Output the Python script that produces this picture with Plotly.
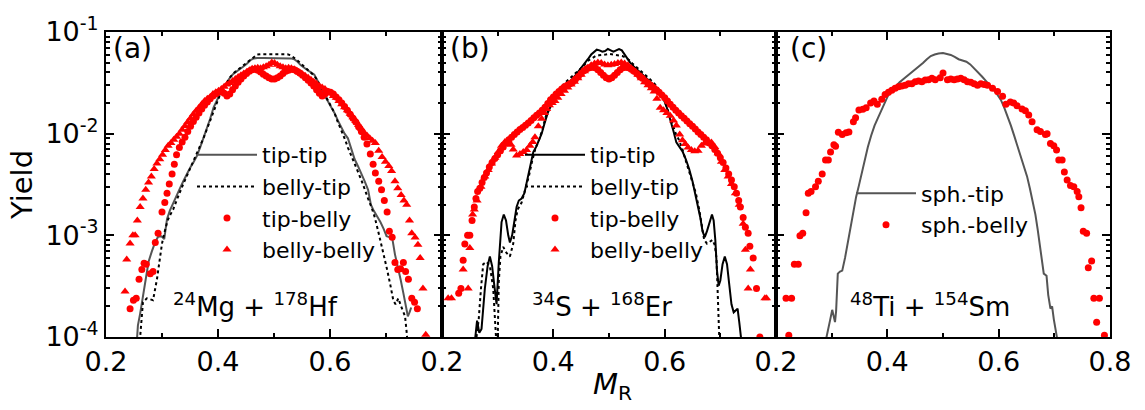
import plotly.graph_objects as go
from plotly.subplots import make_subplots

FONT = "DejaVu Sans"
RED = "#ff0000"
GRAY = "#555555"

# ---------------- (a) 24Mg + 178Hf ----------------
a_tiptip_x = [0.255, 0.257, 0.261, 0.266, 0.271, 0.276, 0.282, 0.288, 0.293, 0.299, 0.304, 0.309, 0.314,
              0.320, 0.326, 0.332, 0.338, 0.344, 0.350, 0.356, 0.362, 0.368, 0.374, 0.380, 0.386, 0.392,
              0.398, 0.404, 0.410, 0.416, 0.422, 0.428, 0.434, 0.440, 0.446, 0.452, 0.458, 0.464, 0.470,
              0.482, 0.494, 0.506, 0.518, 0.530, 0.536, 0.542, 0.548, 0.554, 0.560, 0.566, 0.572, 0.578,
              0.584, 0.590, 0.596, 0.602, 0.608, 0.614, 0.620, 0.626, 0.632, 0.638, 0.644, 0.650, 0.656,
              0.662, 0.668, 0.673, 0.678, 0.684, 0.690, 0.696, 0.701, 0.706, 0.711, 0.716, 0.721, 0.726,
              0.731, 0.736, 0.739, 0.742, 0.745]
a_tiptip_y = [9.0e-5, 1.3e-4, 1.7e-4, 2.6e-4, 4.0e-4, 5.5e-4, 7.0e-4, 8.6e-4, 9.7e-4, 9.8e-4, 9.2e-4,
              1.45e-3, 1.75e-3, 2.1e-3, 2.5e-3, 2.9e-3, 3.4e-3, 4.0e-3, 4.6e-3, 5.2e-3, 6.0e-3, 7.3e-3,
              9.0e-3, 1.1e-2, 1.4e-2, 1.8e-2, 2.15e-2, 2.5e-2, 2.85e-2, 3.2e-2, 3.6e-2, 3.9e-2, 4.1e-2,
              4.3e-2, 4.6e-2, 4.9e-2, 5.3e-2, 5.5e-2, 5.55e-2, 5.55e-2, 5.55e-2, 5.55e-2, 5.55e-2, 5.5e-2,
              5.4e-2, 5.1e-2, 4.7e-2, 4.4e-2, 4.2e-2, 4.0e-2, 3.8e-2, 3.3e-2, 2.7e-2, 2.4e-2, 2.1e-2,
              1.85e-2, 1.6e-2, 1.35e-2, 1.15e-2, 1.0e-2, 9.0e-3, 7.0e-3, 5.6e-3, 4.8e-3, 4.1e-3, 3.4e-3,
              2.8e-3, 2.0e-3, 1.75e-3, 1.55e-3, 1.35e-3, 1.15e-3, 9.8e-4, 9.6e-4, 9.5e-4, 6.5e-4, 5.0e-4,
              3.7e-4, 2.7e-4, 1.9e-4, 1.6e-4, 1.75e-4, 1.95e-4]

a_bellytip_x = [0.259, 0.261, 0.266, 0.273, 0.279, 0.284, 0.291, 0.296, 0.300, 0.305, 0.310, 0.315, 0.320,
                0.326, 0.332, 0.338, 0.344, 0.350, 0.356, 0.362, 0.368, 0.374, 0.380, 0.386, 0.392, 0.398,
                0.404, 0.410, 0.416, 0.422, 0.428, 0.434, 0.440, 0.446, 0.452, 0.458, 0.464, 0.470, 0.476,
                0.500, 0.524, 0.530, 0.536, 0.542, 0.548, 0.554, 0.560, 0.566, 0.572, 0.578, 0.584, 0.590,
                0.596, 0.602, 0.608, 0.614, 0.620, 0.626, 0.632, 0.638, 0.644, 0.650, 0.656, 0.662, 0.668,
                0.674, 0.680, 0.686, 0.690, 0.696, 0.702, 0.708, 0.713, 0.717, 0.722, 0.727, 0.731, 0.734,
                0.737, 0.739]
a_bellytip_y = [8e-5, 1.0e-4, 2.2e-4, 2.4e-4, 2.35e-4, 2.3e-4, 3.7e-4, 5.6e-4, 8.3e-4, 1.1e-3, 1.4e-3,
                1.6e-3, 1.8e-3, 2.2e-3, 2.7e-3, 3.2e-3, 3.8e-3, 4.5e-3, 5.3e-3, 6.3e-3, 7.5e-3, 9.0e-3,
                1.1e-2, 1.35e-2, 1.7e-2, 2.05e-2, 2.45e-2, 2.85e-2, 3.25e-2, 3.6e-2, 3.95e-2, 4.2e-2,
                4.45e-2, 4.75e-2, 5.05e-2, 5.4e-2, 5.7e-2, 6.0e-2, 6.05e-2, 6.05e-2, 6.05e-2, 5.9e-2,
                5.6e-2, 5.25e-2, 4.9e-2, 4.55e-2, 4.25e-2, 4.0e-2, 3.7e-2, 3.3e-2, 2.85e-2, 2.5e-2, 2.2e-2,
                1.9e-2, 1.6e-2, 1.3e-2, 1.1e-2, 9.0e-3, 7.3e-3, 6.0e-3, 5.0e-3, 4.2e-3, 3.5e-3, 2.9e-3,
                2.3e-3, 1.9e-3, 1.5e-3, 1.1e-3, 9.0e-4, 6.5e-4, 4.6e-4, 3.2e-4, 2.3e-4, 2.1e-4, 2.4e-4,
                2.0e-4, 1.8e-4, 1.6e-4, 1.1e-4, 8e-5]

a_tipbelly_x = [0.243, 0.249, 0.254, 0.259, 0.264, 0.268, 0.272, 0.279, 0.284, 0.288, 0.293, 0.300, 0.305,
                0.309, 0.313, 0.318, 0.322, 0.326, 0.331, 0.336, 0.341, 0.346, 0.351, 0.356, 0.361, 0.366,
                0.371, 0.376, 0.381, 0.386, 0.391, 0.396, 0.401, 0.406, 0.411, 0.416, 0.421, 0.426, 0.431,
                0.436, 0.441, 0.446, 0.451, 0.456, 0.461, 0.466, 0.471, 0.476, 0.481, 0.486, 0.491, 0.496,
                0.501, 0.506, 0.511, 0.516, 0.521, 0.526, 0.531, 0.536, 0.541, 0.546, 0.551, 0.556, 0.561,
                0.566, 0.571, 0.576, 0.581, 0.586, 0.591, 0.596, 0.601, 0.606, 0.611, 0.616, 0.621, 0.626,
                0.631, 0.636, 0.641, 0.646, 0.651, 0.656, 0.661, 0.666, 0.672, 0.677, 0.681, 0.687, 0.692,
                0.697, 0.702, 0.706, 0.711, 0.716, 0.721, 0.726, 0.731, 0.735, 0.740, 0.746, 0.751, 0.756]
a_tipbelly_y = [1.9e-4, 2.3e-4, 2.4e-4, 3.7e-4, 4.6e-4, 5.3e-4, 5.2e-4, 4.2e-4, 4.4e-4, 8.5e-4, 1.05e-3,
                1.7e-3, 2.1e-3, 2.6e-3, 3.2e-3, 4.0e-3, 5.0e-3, 6.2e-3, 7.3e-3, 8.3e-3, 9.2e-3, 1.05e-2,
                1.18e-2, 1.32e-2, 1.45e-2, 1.6e-2, 1.75e-2, 1.9e-2, 2.05e-2, 2.2e-2, 2.35e-2, 2.45e-2,
                2.55e-2, 2.6e-2, 2.5e-2, 2.35e-2, 2.45e-2, 2.7e-2, 2.95e-2, 3.2e-2, 3.45e-2, 3.7e-2, 3.9e-2,
                4.1e-2, 4.25e-2, 4.3e-2, 4.2e-2, 4.05e-2, 3.85e-2, 3.7e-2, 3.55e-2, 3.45e-2, 3.45e-2,
                3.55e-2, 3.7e-2, 3.9e-2, 4.1e-2, 4.2e-2, 4.3e-2, 4.25e-2, 4.1e-2, 3.95e-2, 3.75e-2,
                3.55e-2, 3.35e-2, 3.15e-2, 2.95e-2, 2.7e-2, 2.5e-2, 2.35e-2, 2.45e-2, 2.6e-2, 2.55e-2,
                2.45e-2, 2.3e-2, 2.15e-2, 2.0e-2, 1.85e-2, 1.7e-2, 1.55e-2, 1.42e-2, 1.3e-2, 1.17e-2,
                1.05e-2, 9.2e-3, 7.9e-3, 6.3e-3, 5.0e-3, 4.1e-3, 3.4e-3, 2.8e-3, 2.2e-3, 1.7e-3, 1.1e-3,
                9.6e-4, 5.4e-4, 4.6e-4, 4.7e-4, 5.4e-4, 4.4e-4, 3.7e-4, 2.4e-4, 2.2e-4, 1.9e-4]

a_bellybelly_x = [0.234, 0.237, 0.243, 0.248, 0.252, 0.256, 0.261, 0.266, 0.271, 0.276, 0.281, 0.286, 0.291,
                  0.296, 0.301, 0.306, 0.311, 0.316, 0.321, 0.326, 0.331, 0.336, 0.341, 0.346, 0.351, 0.356,
                  0.361, 0.366, 0.371, 0.376, 0.381, 0.386, 0.391, 0.396, 0.401, 0.406, 0.411, 0.416, 0.421,
                  0.426, 0.431, 0.436, 0.441, 0.446, 0.451, 0.456, 0.461, 0.466, 0.471, 0.476, 0.481, 0.486,
                  0.491, 0.496, 0.501, 0.506, 0.511, 0.516, 0.521, 0.526, 0.531, 0.536, 0.541, 0.546, 0.551,
                  0.556, 0.561, 0.566, 0.571, 0.576, 0.581, 0.586, 0.591, 0.596, 0.601, 0.606, 0.611, 0.616,
                  0.621, 0.626, 0.631, 0.636, 0.641, 0.646, 0.651, 0.656, 0.661, 0.666, 0.671, 0.676, 0.681,
                  0.687, 0.693, 0.699, 0.705, 0.710, 0.716, 0.721, 0.727, 0.732, 0.737, 0.742, 0.746, 0.752,
                  0.757, 0.761, 0.766, 0.771]
a_bellybelly_y = [2.8e-4, 5.8e-4, 8.3e-4, 1.0e-3, 1.0e-3, 1.4e-3, 1.9e-3, 2.3e-3, 2.8e-3, 3.3e-3, 3.8e-3,
                  4.5e-3, 5.1e-3, 5.6e-3, 6.2e-3, 6.9e-3, 7.6e-3, 8.1e-3, 8.7e-3, 9.3e-3, 1.0e-2, 1.09e-2,
                  1.19e-2, 1.3e-2, 1.42e-2, 1.55e-2, 1.68e-2, 1.8e-2, 1.95e-2, 2.1e-2, 2.2e-2, 2.3e-2,
                  2.45e-2, 2.55e-2, 2.65e-2, 2.75e-2, 2.9e-2, 3.05e-2, 3.15e-2, 3.3e-2, 3.45e-2, 3.6e-2,
                  3.75e-2, 3.9e-2, 4.05e-2, 4.2e-2, 4.35e-2, 4.4e-2, 4.45e-2, 4.4e-2, 4.5e-2, 4.6e-2,
                  4.75e-2, 5.0e-2, 4.95e-2, 4.75e-2, 4.6e-2, 4.5e-2, 4.4e-2, 4.45e-2, 4.4e-2, 4.3e-2,
                  4.15e-2, 4.0e-2, 3.85e-2, 3.7e-2, 3.55e-2, 3.4e-2, 3.25e-2, 3.1e-2, 2.95e-2, 2.85e-2,
                  2.75e-2, 2.6e-2, 2.5e-2, 2.35e-2, 2.25e-2, 2.1e-2, 1.95e-2, 1.82e-2, 1.7e-2, 1.57e-2,
                  1.45e-2, 1.33e-2, 1.22e-2, 1.12e-2, 1.02e-2, 9.6e-3, 9.0e-3, 8.5e-3, 8.1e-3, 6.8e-3,
                  5.9e-3, 5.3e-3, 4.8e-3, 4.3e-3, 3.4e-3, 2.9e-3, 2.5e-3, 2.2e-3, 2.0e-3, 1.4e-3, 1.05e-3,
                  9.5e-4, 8.1e-4, 6.0e-4, 3.0e-4, 1.05e-4]

# ---------------- (b) 34S + 168Er ----------------
b_tiptip_x = [0.258, 0.260, 0.263, 0.267, 0.271, 0.277, 0.282, 0.286, 0.290, 0.294, 0.298, 0.302, 0.307,
              0.311, 0.315, 0.319, 0.322, 0.326, 0.330, 0.334, 0.338, 0.343, 0.348, 0.352, 0.358, 0.364,
              0.369, 0.374, 0.379, 0.384, 0.390, 0.396, 0.402, 0.408, 0.414, 0.420, 0.426, 0.432, 0.438,
              0.444, 0.450, 0.456, 0.462, 0.468, 0.474, 0.478, 0.483, 0.488, 0.493, 0.498, 0.503, 0.508,
              0.513, 0.518, 0.523, 0.528, 0.533, 0.538, 0.544, 0.550, 0.556, 0.562, 0.568, 0.574, 0.580,
              0.586, 0.592, 0.598, 0.604, 0.610, 0.616, 0.621, 0.626, 0.632, 0.638, 0.644, 0.650, 0.655,
              0.660, 0.664, 0.668, 0.672, 0.676, 0.681, 0.685, 0.688, 0.691, 0.694, 0.697, 0.700, 0.704,
              0.708, 0.712, 0.716, 0.720, 0.724, 0.728, 0.731, 0.734, 0.737, 0.739]
b_tiptip_y = [8e-5, 1.0e-4, 1.45e-4, 1.1e-4, 1.2e-4, 3.0e-4, 5.0e-4, 6.2e-4, 5.0e-4, 3.2e-4, 2.1e-4, 5.4e-4,
              1.35e-3, 1.6e-3, 1.4e-3, 1.0e-3, 8.5e-4, 1.0e-3, 1.4e-3, 1.9e-3, 2.2e-3, 2.3e-3, 2.6e-3,
              3.3e-3, 4.7e-3, 6.6e-3, 7.4e-3, 8.5e-3, 1.0e-2, 1.25e-2, 1.6e-2, 1.9e-2, 2.2e-2, 2.5e-2,
              2.65e-2, 2.85e-2, 3.1e-2, 3.35e-2, 3.65e-2, 4.0e-2, 4.4e-2, 4.85e-2, 5.4e-2, 6.0e-2, 6.4e-2,
              6.7e-2, 6.6e-2, 6.4e-2, 6.5e-2, 6.8e-2, 6.6e-2, 6.4e-2, 6.6e-2, 6.8e-2, 6.6e-2, 6.0e-2,
              5.5e-2, 5.0e-2, 4.6e-2, 4.3e-2, 4.0e-2, 3.75e-2, 3.5e-2, 3.25e-2, 3.0e-2, 2.8e-2, 2.55e-2,
              2.2e-2, 1.8e-2, 1.4e-2, 1.05e-2, 8.2e-3, 7.4e-3, 6.7e-3, 5.6e-3, 4.5e-3, 3.4e-3, 2.6e-3,
              2.0e-3, 1.5e-3, 1.1e-3, 9.6e-4, 1.1e-3, 1.4e-3, 1.6e-3, 1.4e-3, 9.0e-4, 4.5e-4, 3.2e-4,
              3.6e-4, 5.2e-4, 6.2e-4, 5.2e-4, 3.3e-4, 2.1e-4, 1.75e-4, 1.85e-4, 1.9e-4, 1.4e-4, 1.0e-4,
              8e-5]

b_bellytip_x = [0.262, 0.266, 0.270, 0.274, 0.280, 0.286, 0.292, 0.296, 0.298, 0.300, 0.302, 0.305, 0.310,
                0.316, 0.322, 0.328, 0.332, 0.336, 0.343, 0.350, 0.356, 0.362, 0.368, 0.374, 0.380, 0.386,
                0.392, 0.398, 0.404, 0.410, 0.416, 0.422, 0.428, 0.434, 0.440, 0.446, 0.452, 0.458, 0.464,
                0.470, 0.476, 0.482, 0.488, 0.494, 0.500, 0.506, 0.512, 0.518, 0.524, 0.530, 0.536, 0.542,
                0.548, 0.554, 0.560, 0.566, 0.572, 0.578, 0.584, 0.590, 0.596, 0.602, 0.608, 0.614, 0.620,
                0.626, 0.632, 0.638, 0.644, 0.650, 0.656, 0.662, 0.667, 0.671, 0.676, 0.681, 0.686, 0.690,
                0.693, 0.695, 0.697, 0.699]
b_bellytip_y = [1.0e-4, 1.5e-4, 3.0e-4, 5.2e-4, 5.5e-4, 5.0e-4, 3.0e-4, 1.5e-4, 8e-5, 9e-5, 3.5e-4, 6.2e-4,
                7.7e-4, 6.7e-4, 6.2e-4, 8.3e-4, 1.4e-3, 1.8e-3, 2.1e-3, 2.9e-3, 3.8e-3, 5.4e-3, 7.2e-3,
                8.6e-3, 1.08e-2, 1.45e-2, 1.8e-2, 2.1e-2, 2.35e-2, 2.65e-2, 2.95e-2, 3.2e-2, 3.45e-2,
                3.7e-2, 3.95e-2, 4.2e-2, 4.5e-2, 4.9e-2, 5.3e-2, 5.6e-2, 5.8e-2, 5.9e-2, 6.0e-2, 6.0e-2,
                6.1e-2, 6.0e-2, 6.0e-2, 5.9e-2, 5.8e-2, 5.6e-2, 5.3e-2, 4.9e-2, 4.6e-2, 4.3e-2, 4.0e-2,
                3.75e-2, 3.5e-2, 3.25e-2, 3.0e-2, 2.7e-2, 2.35e-2, 1.95e-2, 1.55e-2, 1.2e-2, 1.0e-2, 8.6e-3,
                7.0e-3, 5.4e-3, 4.3e-3, 3.4e-3, 2.6e-3, 1.8e-3, 1.2e-3, 9.0e-4, 8.3e-4, 8.6e-4, 9.0e-4,
                8.0e-4, 6.0e-4, 3.0e-4, 1.0e-4, 7e-5]

b_tipbelly_x = [0.230, 0.234, 0.238, 0.241, 0.246, 0.250, 0.254, 0.258, 0.261, 0.264, 0.268, 0.272, 0.276,
                0.280, 0.285, 0.290, 0.295, 0.300, 0.305, 0.310, 0.315, 0.320, 0.325, 0.330, 0.335, 0.340,
                0.345, 0.350, 0.355, 0.360, 0.365, 0.370, 0.375, 0.380, 0.385, 0.390, 0.395, 0.400, 0.405,
                0.410, 0.415, 0.420, 0.425, 0.430, 0.435, 0.440, 0.445, 0.450, 0.455, 0.460, 0.465, 0.470,
                0.475, 0.480, 0.485, 0.490, 0.495, 0.500, 0.505, 0.510, 0.515, 0.520, 0.525, 0.530, 0.535,
                0.540, 0.545, 0.550, 0.555, 0.560, 0.565, 0.570, 0.575, 0.580, 0.585, 0.590, 0.595, 0.600,
                0.605, 0.610, 0.615, 0.620, 0.625, 0.630, 0.635, 0.640, 0.645, 0.650, 0.655, 0.660, 0.665,
                0.670, 0.675, 0.680, 0.685, 0.690, 0.695, 0.700, 0.705, 0.710, 0.715, 0.720, 0.725, 0.729,
                0.733, 0.736, 0.741, 0.745, 0.750, 0.753, 0.759, 0.765, 0.771]
b_tipbelly_y = [2.7e-4, 3.0e-4, 5.7e-4, 8.2e-4, 1.0e-3, 1.0e-3, 1.4e-3, 1.9e-3, 2.3e-3, 2.7e-3, 2.9e-3,
                3.3e-3, 3.7e-3, 4.1e-3, 4.7e-3, 5.2e-3, 5.7e-3, 6.2e-3, 6.8e-3, 7.4e-3, 8.1e-3, 8.7e-3,
                9.2e-3, 9.8e-3, 1.04e-2, 1.1e-2, 1.15e-2, 1.21e-2, 1.27e-2, 1.35e-2, 1.43e-2, 1.52e-2,
                1.6e-2, 1.7e-2, 1.82e-2, 1.98e-2, 2.15e-2, 2.3e-2, 2.45e-2, 2.6e-2, 2.75e-2, 2.9e-2, 3.0e-2,
                3.1e-2, 3.25e-2, 3.45e-2, 3.65e-2, 3.9e-2, 4.15e-2, 4.35e-2, 4.45e-2, 4.5e-2, 4.45e-2,
                4.25e-2, 4.0e-2, 3.75e-2, 3.55e-2, 3.45e-2, 3.55e-2, 3.75e-2, 4.0e-2, 4.25e-2, 4.45e-2,
                4.5e-2, 4.45e-2, 4.3e-2, 4.1e-2, 3.9e-2, 3.7e-2, 3.5e-2, 3.3e-2, 3.15e-2, 3.0e-2, 2.85e-2,
                2.7e-2, 2.55e-2, 2.4e-2, 2.25e-2, 2.1e-2, 1.95e-2, 1.82e-2, 1.7e-2, 1.6e-2, 1.5e-2,
                1.42e-2, 1.33e-2, 1.25e-2, 1.18e-2, 1.11e-2, 1.04e-2, 9.8e-3, 9.2e-3, 8.7e-3, 8.1e-3,
                7.6e-3, 7.0e-3, 6.4e-3, 5.8e-3, 5.2e-3, 4.6e-3, 4.0e-3, 3.5e-3, 3.0e-3, 2.6e-3, 2.2e-3,
                1.9e-3, 1.5e-3, 1.2e-3, 1.05e-3, 7.8e-4, 6.0e-4, 3.0e-4, 1.0e-4]

b_bellybelly_x = [0.211, 0.217, 0.238, 0.247, 0.250, 0.255, 0.258, 0.263, 0.270, 0.277, 0.283, 0.289, 0.295,
                  0.301, 0.307, 0.313, 0.319, 0.324, 0.328, 0.334, 0.340, 0.346, 0.352, 0.358, 0.363, 0.367,
                  0.373, 0.379, 0.384, 0.388, 0.393, 0.398, 0.403, 0.408, 0.414, 0.420, 0.426, 0.432, 0.438,
                  0.444, 0.450, 0.456, 0.462, 0.468, 0.474, 0.480, 0.486, 0.492, 0.498, 0.504, 0.510, 0.516,
                  0.522, 0.528, 0.534, 0.540, 0.546, 0.552, 0.558, 0.564, 0.570, 0.576, 0.581, 0.586, 0.592,
                  0.598, 0.604, 0.610, 0.616, 0.621, 0.627, 0.632, 0.637, 0.642, 0.648, 0.654, 0.660, 0.666,
                  0.672, 0.678, 0.684, 0.690, 0.696, 0.702, 0.708, 0.714, 0.720, 0.727, 0.734, 0.741, 0.745,
                  0.750, 0.754, 0.780, 0.783]
b_bellybelly_y = [2.4e-4, 2.4e-4, 4.6e-4, 3.0e-4, 7.5e-4, 1.6e-3, 1.8e-3, 2.2e-3, 3.0e-3, 3.8e-3, 4.4e-3,
                  5.1e-3, 5.8e-3, 6.6e-3, 7.6e-3, 8.3e-3, 8.6e-3, 7.8e-3, 7.0e-3, 6.1e-3, 6.3e-3, 6.6e-3,
                  6.9e-3, 7.6e-3, 8.3e-3, 9.2e-3, 1.18e-2, 1.4e-2, 1.6e-2, 1.75e-2, 1.9e-2, 2.0e-2, 2.1e-2,
                  2.25e-2, 2.45e-2, 2.65e-2, 2.85e-2, 3.05e-2, 3.25e-2, 3.5e-2, 3.8e-2, 4.1e-2, 4.45e-2,
                  4.7e-2, 4.9e-2, 5.0e-2, 4.95e-2, 4.8e-2, 4.7e-2, 4.75e-2, 4.85e-2, 4.95e-2, 5.0e-2, 4.9e-2,
                  4.7e-2, 4.4e-2, 4.1e-2, 3.8e-2, 3.5e-2, 3.2e-2, 3.0e-2, 2.8e-2, 2.6e-2, 2.2e-2, 1.8e-2,
                  1.7e-2, 1.6e-2, 1.5e-2, 1.35e-2, 1.2e-2, 9.8e-3, 8.6e-3, 7.9e-3, 7.3e-3, 6.9e-3, 6.7e-3,
                  6.8e-3, 7.6e-3, 8.1e-3, 8.0e-3, 8.2e-3, 7.4e-3, 6.4e-3, 5.3e-3, 4.4e-3, 3.8e-3, 3.2e-3,
                  2.6e-3, 2.0e-3, 1.3e-3, 7.2e-4, 3.0e-4, 4.6e-4, 2.4e-4, 2.4e-4]

# ---------------- (c) 48Ti + 154Sm ----------------
c_sphtip_x = [0.289, 0.292, 0.297, 0.301, 0.304, 0.306, 0.308, 0.311, 0.315, 0.319, 0.324, 0.329, 0.334,
              0.339, 0.344, 0.349, 0.355, 0.360, 0.365, 0.371, 0.377, 0.383, 0.389, 0.395, 0.401, 0.408,
              0.415, 0.422, 0.429, 0.436, 0.443, 0.450, 0.457, 0.464, 0.471, 0.478, 0.485, 0.492, 0.500,
              0.507, 0.514, 0.521, 0.528, 0.535, 0.542, 0.549, 0.556, 0.563, 0.570, 0.577, 0.584, 0.591,
              0.598, 0.604, 0.610, 0.616, 0.622, 0.628, 0.634, 0.640, 0.646, 0.651, 0.656, 0.661, 0.666,
              0.670, 0.674, 0.678, 0.681, 0.686, 0.689, 0.693, 0.696, 0.699, 0.702, 0.706]
c_sphtip_y = [9e-5, 1.05e-4, 1.45e-4, 1.85e-4, 1.5e-4, 1.4e-4, 1.8e-4, 4.2e-4, 4.4e-4, 4.5e-4, 6.0e-4,
              8.5e-4, 1.25e-3, 1.8e-3, 2.4e-3, 3.1e-3, 4.4e-3, 5.8e-3, 7.4e-3, 9.6e-3, 1.2e-2, 1.42e-2,
              1.7e-2, 2.05e-2, 2.35e-2, 2.65e-2, 2.95e-2, 3.2e-2, 3.45e-2, 3.7e-2, 3.95e-2, 4.25e-2,
              4.6e-2, 4.95e-2, 5.4e-2, 5.8e-2, 6.0e-2, 6.15e-2, 6.2e-2, 6.1e-2, 5.95e-2, 5.7e-2, 5.4e-2,
              5.25e-2, 5.1e-2, 4.8e-2, 4.4e-2, 4.0e-2, 3.65e-2, 3.3e-2, 3.0e-2, 2.7e-2, 2.4e-2, 2.15e-2,
              1.8e-2, 1.5e-2, 1.2e-2, 9.5e-3, 7.4e-3, 6.0e-3, 4.7e-3, 3.8e-3, 2.9e-3, 2.2e-3, 1.6e-3,
              1.15e-3, 8.0e-4, 5.0e-4, 4.2e-4, 4.0e-4, 2.6e-4, 1.9e-4, 2.0e-4, 1.5e-4, 1.2e-4, 9e-5]

c_sphbelly_x = [0.218, 0.223, 0.228, 0.233, 0.240, 0.243, 0.248, 0.254, 0.258, 0.263, 0.271, 0.276, 0.283,
                0.289, 0.294, 0.298, 0.304, 0.307, 0.312, 0.319, 0.326, 0.331, 0.339, 0.343, 0.349, 0.356,
                0.362, 0.370, 0.376, 0.382, 0.390, 0.396, 0.402, 0.408, 0.414, 0.420, 0.426, 0.432, 0.438,
                0.444, 0.450, 0.456, 0.462, 0.468, 0.474, 0.480, 0.486, 0.495, 0.500, 0.508, 0.514, 0.520,
                0.526, 0.532, 0.538, 0.544, 0.550, 0.556, 0.562, 0.568, 0.574, 0.580, 0.589, 0.598, 0.607,
                0.613, 0.621, 0.627, 0.633, 0.642, 0.648, 0.654, 0.660, 0.669, 0.675, 0.684, 0.687, 0.693,
                0.699, 0.704, 0.708, 0.714, 0.718, 0.723, 0.729, 0.735, 0.741, 0.744, 0.748, 0.752, 0.758,
                0.761, 0.767, 0.771, 0.776, 0.781, 0.790]
c_sphbelly_y = [2.4e-4, 1.04e-4, 2.4e-4, 5.2e-4, 5.2e-4, 9.9e-4, 1.05e-3, 1.67e-3, 2.6e-3, 2.7e-3, 3.0e-3,
                3.4e-3, 4.0e-3, 5.5e-3, 5.5e-3, 6.6e-3, 7.8e-3, 7.5e-3, 1.03e-2, 9.8e-3, 1.02e-2, 1.04e-2,
                1.31e-2, 1.43e-2, 1.71e-2, 1.74e-2, 1.8e-2, 2.0e-2, 2.1e-2, 1.95e-2, 2.18e-2, 2.43e-2,
                2.55e-2, 2.68e-2, 2.8e-2, 2.9e-2, 2.95e-2, 3.0e-2, 3.1e-2, 3.1e-2, 3.25e-2, 3.3e-2, 3.25e-2,
                3.37e-2, 3.4e-2, 3.5e-2, 3.4e-2, 3.54e-2, 3.95e-2, 3.4e-2, 3.45e-2, 3.4e-2, 3.45e-2, 3.5e-2,
                3.4e-2, 3.25e-2, 3.2e-2, 3.1e-2, 3.0e-2, 3.1e-2, 3.05e-2, 3.0e-2, 2.8e-2, 2.6e-2, 2.34e-2,
                1.95e-2, 2.05e-2, 2.0e-2, 1.88e-2, 1.75e-2, 1.68e-2, 1.53e-2, 1.31e-2, 1.09e-2, 1.05e-2,
                9.8e-3, 1.0e-2, 8.0e-3, 7.6e-3, 6.9e-3, 5.5e-3, 5.5e-3, 4.2e-3, 3.5e-3, 3.1e-3, 3.0e-3,
                2.7e-3, 2.4e-3, 1.87e-3, 1.1e-3, 1.05e-3, 4.8e-4, 5.6e-4, 2.4e-4, 1.4e-4, 2.4e-4, 1.04e-4]

# ---------------- figure ----------------
fig = make_subplots(rows=1, cols=3, shared_yaxes=True, horizontal_spacing=0)


def line(x, y, name, color, dash, legend, col):
    fig.add_trace(go.Scatter(x=x, y=y, mode="lines", name=name, legend=legend,
                             line=dict(color=color, width=2, dash=dash)), row=1, col=col)


def dots(x, y, name, symbol, size, legend, col):
    fig.add_trace(go.Scatter(x=x, y=y, mode="markers", name=name, legend=legend,
                             marker=dict(color=RED, symbol=symbol, size=size, line=dict(width=0))),
                  row=1, col=col)


line(a_tiptip_x, a_tiptip_y, "tip-tip", GRAY, "solid", "legend", 1)
line(a_bellytip_x, a_bellytip_y, "belly-tip", "black", "dot", "legend", 1)
dots(a_tipbelly_x, a_tipbelly_y, "tip-belly", "circle", 7, "legend", 1)
dots(a_bellybelly_x, a_bellybelly_y, "belly-belly", "triangle-up", 8, "legend", 1)

line(b_tiptip_x, b_tiptip_y, "tip-tip", "black", "solid", "legend2", 2)
line(b_bellytip_x, b_bellytip_y, "belly-tip", "black", "dot", "legend2", 2)
dots(b_tipbelly_x, b_tipbelly_y, "tip-belly", "circle", 7, "legend2", 2)
dots(b_bellybelly_x, b_bellybelly_y, "belly-belly", "triangle-up", 8, "legend2", 2)

line(c_sphtip_x, c_sphtip_y, "sph.-tip", GRAY, "solid", "legend3", 3)
dots(c_sphbelly_x, c_sphbelly_y, "sph.-belly", "circle", 7, "legend3", 3)

W, H = 1145, 410
L, R, T, B = 106, 35, 20, 73
PW = W - L - R
PH = H - T - B


def px(xp):
    return (xp - L) / PW


def py(yp):
    return 1 - (yp - T) / PH


tickfont = dict(family=FONT, size=27, color="black")
xbase = dict(range=[0.2, 0.8], showline=True, linecolor="black", linewidth=2, mirror="ticks",
             ticks="inside", ticklen=8, tickwidth=2, tickcolor="black", showgrid=False, zeroline=False,
             tickfont=tickfont,
             minor=dict(tickvals=[0.3, 0.5, 0.7], ticks="inside", ticklen=4, tickwidth=2,
                        tickcolor="black"))
doms = [[0, px(442)], [px(442), px(776)], [px(776), 1]]
xt_ab = [0.2, 0.4, 0.6]
xt_c = [0.2, 0.4, 0.6, 0.8]
fig.update_layout(
    xaxis=dict(xbase, domain=doms[0], tickvals=xt_ab, ticktext=[f"{v:.1f}" for v in xt_ab]),
    xaxis2=dict(xbase, domain=doms[1], tickvals=xt_ab, ticktext=[f"{v:.1f}" for v in xt_ab]),
    xaxis3=dict(xbase, domain=doms[2], tickvals=xt_c, ticktext=[f"{v:.1f}" for v in xt_c]),
)

ydec = [1e-4, 1e-3, 1e-2, 1e-1]
ylab = ["10<sup>-4</sup>", "10<sup>-3</sup>", "10<sup>-2</sup>", "10<sup>-1</sup>"]
yminor = [k * d for d in [1e-4, 1e-3, 1e-2] for k in range(2, 10)]
ybase = dict(type="log", range=[-4, -1], showline=True, linecolor="black", linewidth=2, mirror="ticks",
             ticks="inside", ticklen=8, tickwidth=2, tickcolor="black", showgrid=False, zeroline=False,
             tickvals=ydec, ticktext=ylab, tickfont=tickfont,
             minor=dict(tickvals=yminor, ticks="inside", ticklen=4, tickwidth=1.5, tickcolor="black"))
fig.update_layout(yaxis=ybase, yaxis2=dict(ybase, showticklabels=False),
                  yaxis3=dict(ybase, showticklabels=False))

legfont = dict(family=FONT, size=22, color="black")
legcommon = dict(xanchor="left", yanchor="top", bgcolor="rgba(0,0,0,0)", borderwidth=0,
                 font=legfont, itemwidth=60, tracegroupgap=0)
fig.update_layout(
    legend=dict(legcommon, x=px(192), y=py(126)),
    legend2=dict(legcommon, x=px(520), y=py(126)),
    legend3=dict(legcommon, x=px(851), y=py(166)),
)

ann = []
for lab, xc in [("(a)", 132), ("(b)", 470), ("(c)", 808)]:
    ann.append(dict(text=lab, x=px(xc), y=py(37), xref="paper", yref="paper", showarrow=False,
                    xanchor="center", yanchor="middle", font=dict(family=FONT, size=28, color="black")))
for lab, xc in [("<sup>24</sup>Mg + <sup>178</sup>Hf", 255), ("<sup>34</sup>S + <sup>168</sup>Er", 602),
                ("<sup>48</sup>Ti + <sup>154</sup>Sm", 930)]:
    ann.append(dict(text=lab, x=px(xc), y=py(304), xref="paper", yref="paper", showarrow=False,
                    xanchor="center", yanchor="middle", font=dict(family=FONT, size=26, color="black")))
ann.append(dict(text="Yield", x=px(22), y=py(179), xref="paper", yref="paper", showarrow=False,
                textangle=-90, xanchor="center", yanchor="middle",
                font=dict(family=FONT, size=29, color="black")))
ann.append(dict(text="<i>M</i><sub>R</sub>", x=px(612), y=py(388), xref="paper", yref="paper",
                showarrow=False, xanchor="center", yanchor="middle",
                font=dict(family=FONT, size=29, color="black")))

fig.update_layout(width=W, height=H, margin=dict(l=L, r=R, t=T, b=B), plot_bgcolor="white",
                  paper_bgcolor="white", font=dict(family=FONT, color="black"), annotations=ann)

fig.write_html("out.html")
